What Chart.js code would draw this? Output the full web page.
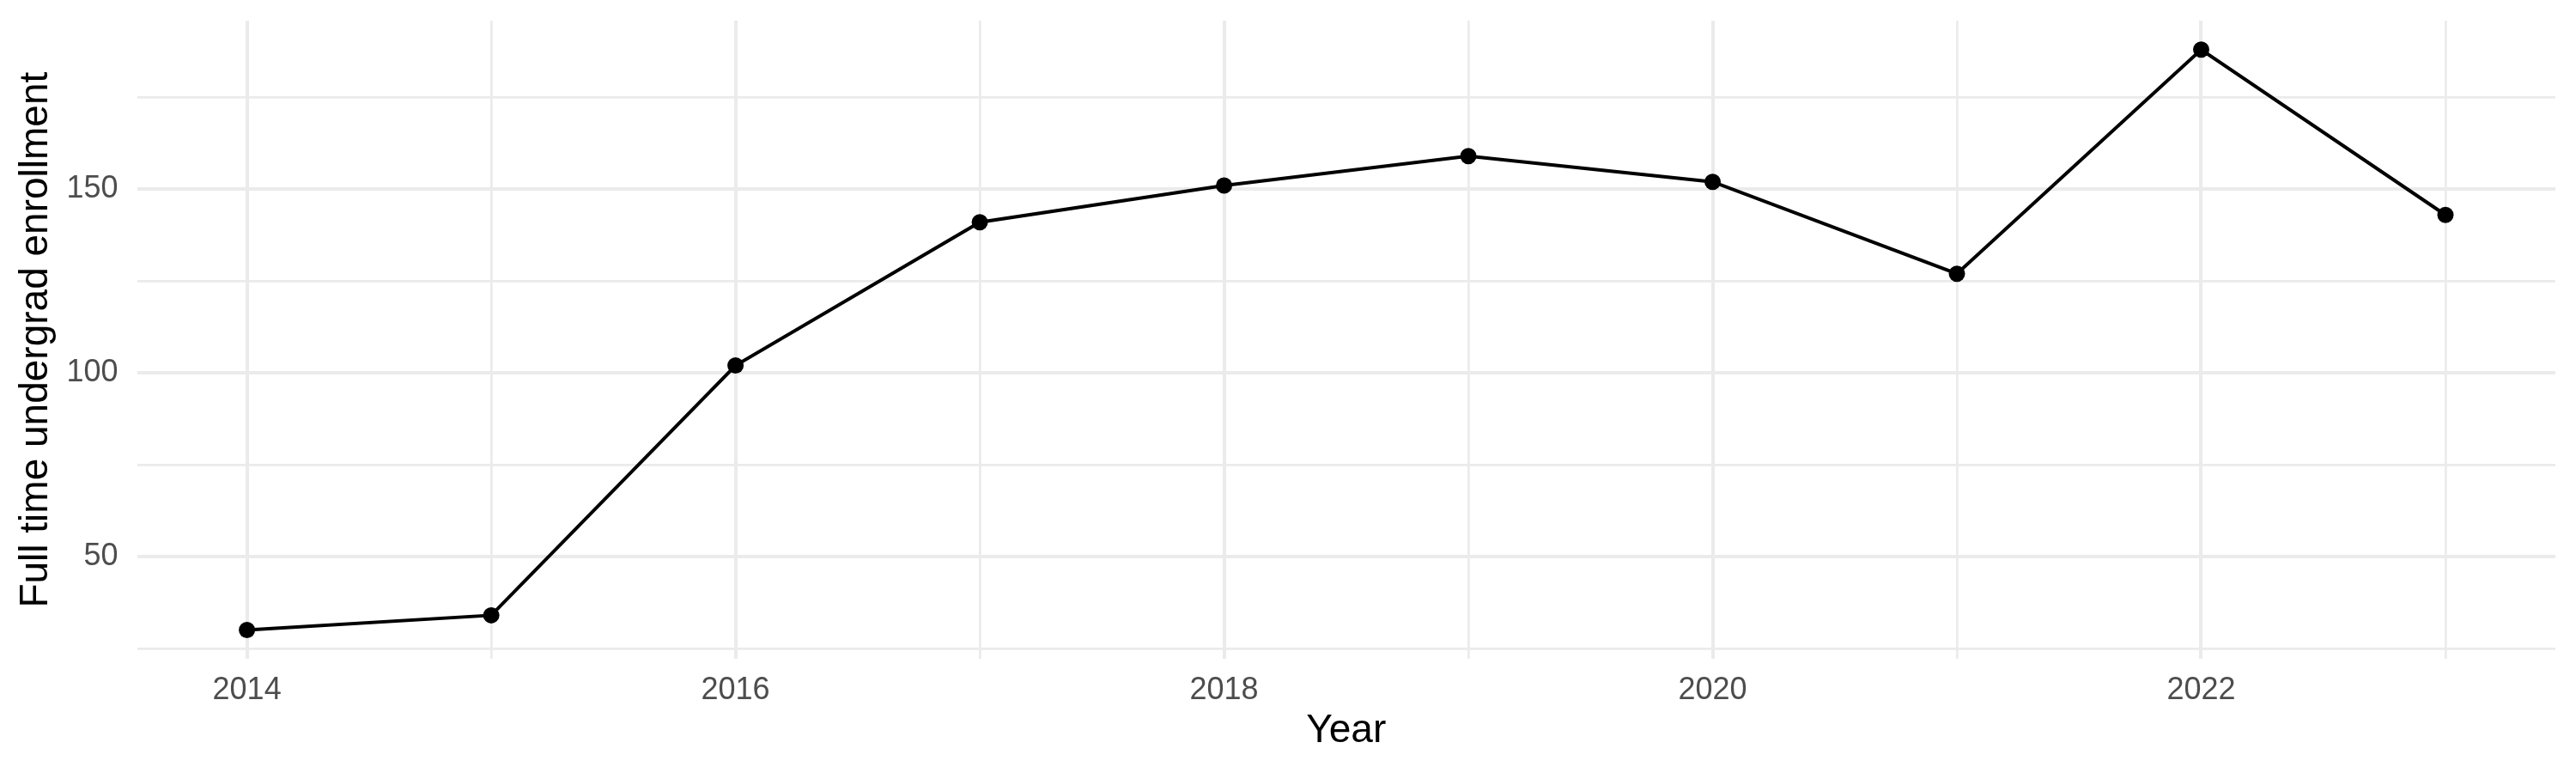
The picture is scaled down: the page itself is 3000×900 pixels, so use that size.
<!DOCTYPE html>
<html>
<head>
<meta charset="utf-8">
<script src="https://cdn.jsdelivr.net/npm/chart.js@4/dist/chart.umd.min.js"></script>
<style>
html,body{margin:0;padding:0;background:#fff;}
canvas{display:block;}
</style>
</head>
<body>
<canvas id="c" width="3000" height="900"></canvas>
<script>
const years = [2014, 2015, 2016, 2017, 2018, 2019, 2020, 2021, 2022, 2023];
const enrollment = [30, 34, 102, 141, 151, 159, 152, 127, 188, 143];
const yTicks = [25, 50, 75, 100, 125, 150, 175];
const xLabelYears = [2014, 2016, 2018, 2020, 2022];
const yLabelValues = [50, 100, 150];
const xTitle = 'Year';
const yTitle = 'Full time undergrad enrollment';

const FONT = "'Liberation Sans', Arial, Helvetica, sans-serif";
const GRID = '#EBEBEB';

new Chart(document.getElementById('c'), {
  type: 'line',
  data: {
    datasets: [{
      data: years.map((y, i) => ({ x: y, y: enrollment[i] })),
      borderColor: '#000000',
      backgroundColor: '#000000',
      borderWidth: 4,
      pointRadius: 9.5,
      pointBorderWidth: 0,
      pointBackgroundColor: '#000000',
      tension: 0,
      fill: false
    }]
  },
  options: {
    responsive: false,
    devicePixelRatio: 1,
    animation: false,
    layout: { padding: { top: 24, right: 24, left: 0, bottom: 0 } },
    plugins: { legend: { display: false }, tooltip: { enabled: false } },
    scales: {
      x: {
        type: 'linear',
        min: 2013.55,
        max: 2023.45,
        afterBuildTicks: s => { s.ticks = years.map(v => ({ value: v })); },
        afterFit: s => { s.height = 132.7; s.paddingLeft = 0; s.paddingRight = 0; },
        border: { display: false },
        grid: {
          color: GRID,
          drawTicks: false,
          lineWidth: c => (c.tick && xLabelYears.includes(c.tick.value)) ? 4 : 2.7
        },
        ticks: {
          padding: 15,
          color: '#4D4D4D',
          font: { family: FONT, size: 36 },
          maxRotation: 0,
          autoSkip: false,
          callback: v => xLabelYears.includes(v) ? String(v) : ''
        },
        title: {
          display: true,
          text: xTitle,
          color: '#000000',
          font: { family: FONT, size: 46, lineHeight: 1.2 },
          padding: { top: 0, bottom: 21 }
        }
      },
      y: {
        type: 'linear',
        min: 22.1,
        max: 195.9,
        afterBuildTicks: s => { s.ticks = yTicks.map(v => ({ value: v })); },
        afterFit: s => { s.width = 159.6; s.paddingTop = 0; s.paddingBottom = 0; },
        border: { display: false },
        grid: {
          color: GRID,
          drawTicks: false,
          lineWidth: c => (c.tick && yLabelValues.includes(c.tick.value)) ? 4 : 2.7
        },
        ticks: {
          padding: 22,
          color: '#4D4D4D',
          font: { family: FONT, size: 36 },
          autoSkip: false,
          callback: v => yLabelValues.includes(v) ? String(v) : ''
        },
        title: {
          display: true,
          text: yTitle,
          color: '#000000',
          font: { family: FONT, size: 46, lineHeight: 1.2 },
          padding: { top: 15, bottom: 0 }
        }
      }
    }
  }
});
</script>
</body>
</html>
